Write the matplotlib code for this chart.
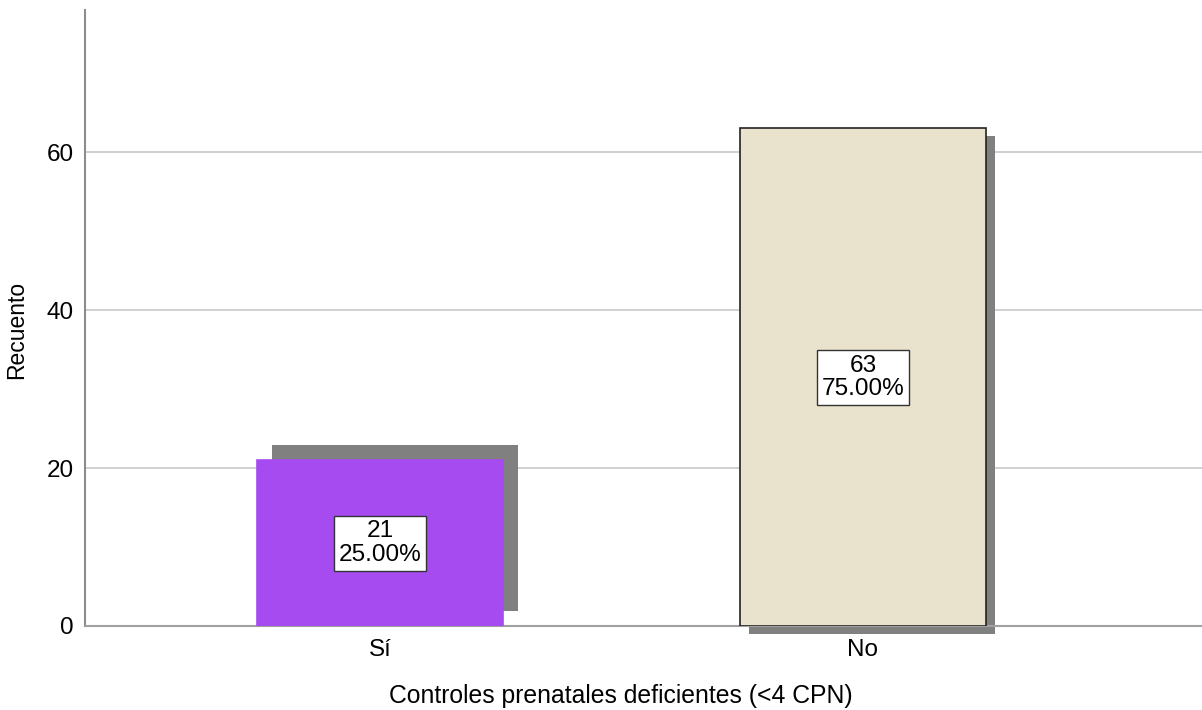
import matplotlib
matplotlib.use("Agg")
import matplotlib.pyplot as plt
import matplotlib.transforms as mtransforms

plt.rcParams['font.family'] = ['Liberation Sans', 'DejaVu Sans']

categories = ["Sí", "No"]
counts = [21, 63]
percents = [25.00, 75.00]
bar_colors = ["#A64BF0", "#E9E2CD"]
edge_colors = ["#A64BF0", "#222222"]
# shadow offsets in pixels (right, up)
shadow_offsets = [(15, 15), (9, -8)]
y_ticks = [0, 20, 40, 60]

fig = plt.figure(figsize=(12.02, 7.10), dpi=100)
ax = fig.add_axes([85 / 1202, 1 - 626 / 710, 1 - 85 / 1202, (626 - 10) / 710])

x = list(range(len(categories)))
width = 0.51

for i, (xi, c) in enumerate(zip(x, counts)):
    dx, dy = shadow_offsets[i]
    off = mtransforms.ScaledTranslation(dx / 100, dy / 100, fig.dpi_scale_trans)
    sh = ax.bar(xi, c, width=width, color="#808080", zorder=2)
    for p in sh:
        p.set_transform(ax.transData + off)
        p.set_clip_on(False)
    ax.bar(xi, c, width=width, color=bar_colors[i], edgecolor=edge_colors[i],
           linewidth=1.2, zorder=3)
    ax.text(xi, c / 2, f"{c}\n{percents[i]:.2f}%", ha="center", va="center",
            fontsize=17.6, linespacing=1.08, zorder=4,
            bbox=dict(boxstyle="square,pad=0.2", facecolor="white",
                      edgecolor="#333333", linewidth=1.0))

ax.set_xlim(-0.611, 1.702)
ax.set_ylim(0, 78)
ax.set_xticks(x)
ax.set_xticklabels(categories)
ax.set_yticks(y_ticks)
ax.tick_params(axis="both", length=0, labelsize=17.5, colors="black")
ax.tick_params(axis="y", pad=8)
ax.tick_params(axis="x", pad=9)

ax.yaxis.grid(True, color="#C8C8C8", linewidth=1.2, zorder=0)
ax.set_axisbelow(True)

for s in ["top", "right"]:
    ax.spines[s].set_visible(False)
ax.spines["left"].set_color("#8C8C8C")
ax.spines["bottom"].set_color("#A0A0A0")
ax.spines["left"].set_linewidth(1.5)
ax.spines["bottom"].set_linewidth(1.5)

ax.set_ylabel("Recuento", fontsize=16.5)
ax.set_xlabel("Controles prenatales deficientes (<4 CPN)", fontsize=17.8)
ax.yaxis.set_label_coords(17 / 1117 - 85 / 1117, 0.48)
ax.yaxis.label.set_va("center")
ax.xaxis.set_label_coords(0.48, -(696 - 626) / 616)
ax.xaxis.label.set_va("center")

fig.savefig("out.png", dpi=100)
